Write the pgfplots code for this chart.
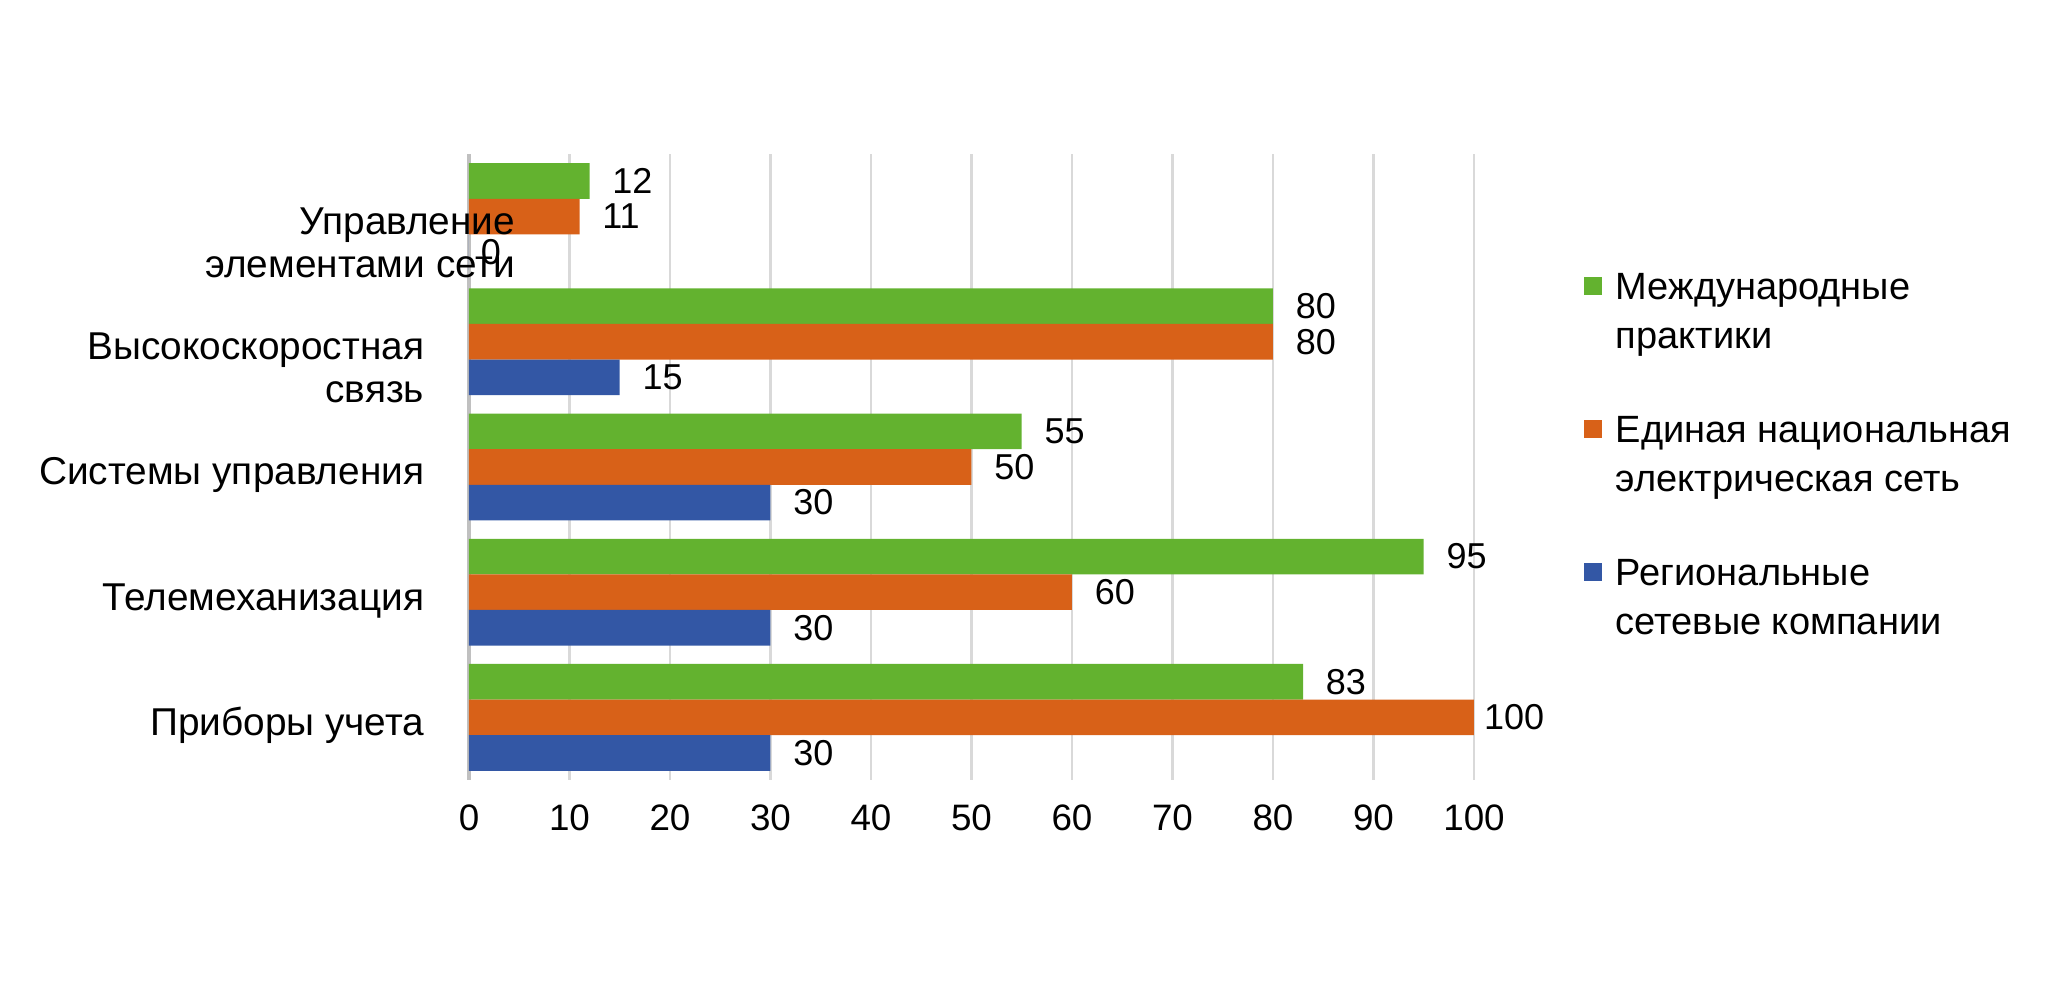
\documentclass[border=0pt]{standalone}
\usepackage{pgfplots}
\pgfplotsset{compat=1.18}
\usepackage{pgfplotstable}
\usepackage{fontspec}
\setmainfont{Liberation Sans}
\definecolor{cg}{HTML}{63B22F}
\definecolor{co}{HTML}{D86118}
\definecolor{cb}{HTML}{3357A5}
\definecolor{gridc}{HTML}{D9D9D9}
\definecolor{axc}{HTML}{C0C0C0}
\pgfplotstableread{
y v sh
0 83 0
1 95 0
2 55 0
3 80 0
4 12 0
}\tgreen
\pgfplotstableread{
y v sh
0 100 -3.2
1 60 0
2 50 0
3 80 0
4 11 0
}\torange
\pgfplotstableread{
y v sh
0 30 0
1 30 0
2 30 0
3 15 0
4 0 -2.7
}\tblue
\begin{document}
\begin{tikzpicture}
\path[use as bounding box] (-117.25pt,-50.5pt) rectangle (394.75pt,195pt);
\begin{axis}[
  at={(0,0)}, anchor=south west,
  scale only axis, width=251.25pt, height=156.5pt,
  xbar, bar width=8.9pt,
  xmin=0, xmax=100, ymin=-0.5, ymax=4.5,
  clip=false,
  xtick={0,10,...,100},
  ytick={0,1,2,3,4},
  yticklabels={{Приборы учета},{Телемеханизация},{Системы управления},{\begin{tabular}[t]{@{}r@{}}Высокоскоростная\\связь\end{tabular}},{}},
  major tick length=0pt,
  axis line style={draw=none},
  xmajorgrids, major grid style={color=gridc, line width=0.7pt},
  extra x ticks={0}, extra x tick labels={},
  extra x tick style={xmajorgrids=true, major grid style={color=axc, line width=0.9pt}},
  /pgf/number format/assume math mode=true,
  xticklabel style={font=\fontsize{9.2}{11}\selectfont, inner sep=0pt, anchor=north, yshift=-5.9pt},
  yticklabel style={font=\fontsize{9.7}{10.8}\selectfont, inner sep=0pt, anchor=base east, xshift=-11pt, yshift=-4.5pt},
  point meta=x,
  nodes near coords,
  nodes near coords style={anchor=west, inner sep=0pt, xshift=5.5pt, font=\fontsize{9}{11}\selectfont, text=black},
  legend image code/.code={\fill[#1,draw=none] (0pt,1.15pt) rectangle (4.5pt,5.65pt);},
  legend cell align=left,
  legend style={draw=none, fill=none, at={(1.1085,0.824)}, anchor=north west, inner sep=0pt, row sep=25.7pt, column sep=3.5pt, cells={anchor=base west}, nodes={inner sep=0pt}, font=\fontsize{9.5}{12.25}\selectfont},
]
\addplot[fill=cg, draw=none, bar shift=8.9pt] table[x=v, y=y] {\tgreen};
\addlegendentry{\begin{tabular}[t]{@{}l@{}}Международные\\практики\end{tabular}}
\addplot[fill=co, draw=none, bar shift=0pt, visualization depends on={\thisrow{sh}\as\sh}, every node near coord/.append style={xshift=\sh pt}] table[x=v, y=y] {\torange};
\addlegendentry{\begin{tabular}[t]{@{}l@{}}Единая национальная\\электрическая сеть\end{tabular}}
\addplot[fill=cb, draw=none, bar shift=-8.9pt, visualization depends on={\thisrow{sh}\as\sh}, every node near coord/.append style={xshift=\sh pt}] table[x=v, y=y] {\tblue};
\addlegendentry{\begin{tabular}[t]{@{}l@{}}Региональные\\сетевые компании\end{tabular}}
\node[anchor=base east, inner sep=0pt, xshift=11.75pt, yshift=-4.5pt, font=\fontsize{9.7}{10.8}\selectfont] at (axis cs:0,4) {\begin{tabular}[t]{@{}r@{}}Управление\\элементами сети\end{tabular}};
\end{axis}
\end{tikzpicture}
\end{document}
